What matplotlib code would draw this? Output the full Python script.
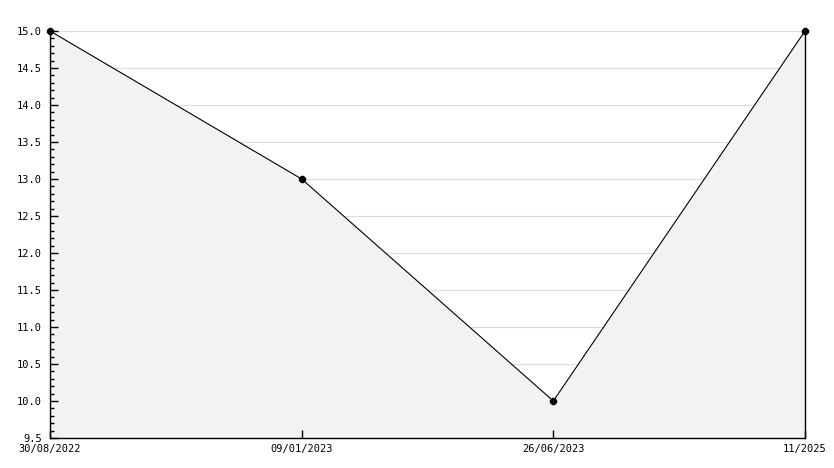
import matplotlib
matplotlib.use("Agg")
import matplotlib.pyplot as plt
import numpy as np
from matplotlib.ticker import MultipleLocator, FormatStrFormatter

dates = ["30/08/2022", "09/01/2023", "26/06/2023", "11/2025"]
values = [15.0, 13.0, 10.0, 15.0]
y_min, y_max, y_step = 9.5, 15.0, 0.5

W, H = 834, 468
fig = plt.figure(figsize=(W/100, H/100), dpi=100)
ax = fig.add_axes([50/W, (H-438)/H, (805-50)/W, (438-31)/H])

x = list(range(len(dates)))
for yv in np.arange(y_min + y_step, y_max + 0.001, y_step):
    ax.axhline(yv, color="#dddddd", linewidth=0.8, zorder=0.2)
ax.fill_between(x, values, y_min, color="#f2f2f2", zorder=0.3, linewidth=0)
ax.plot(x, values, color="black", linewidth=0.8, marker="8", markersize=5,
        zorder=3, clip_on=False)

ax.set_xlim(0, len(dates) - 1)
ax.set_ylim(y_min, y_max)
ax.set_xticks(x)
ax.set_xticklabels(dates)
ax.yaxis.set_major_locator(MultipleLocator(0.5))
ax.yaxis.set_minor_locator(MultipleLocator(0.1))
ax.yaxis.set_major_formatter(FormatStrFormatter("%.1f"))

for s in ["left", "bottom", "right"]:
    ax.spines[s].set_color("black")
    ax.spines[s].set_linewidth(1.0)
ax.spines["top"].set_visible(False)

ax.tick_params(axis="y", which="major", direction="in", length=6, width=1, labelsize=7.5, pad=6)
ax.tick_params(axis="y", which="minor", direction="in", length=3, width=1)
ax.tick_params(axis="x", which="major", direction="in", length=6, width=1, labelsize=7.5, pad=4)
for lbl in ax.get_xticklabels() + ax.get_yticklabels():
    lbl.set_fontfamily("DejaVu Sans Mono")

fig.savefig("out.png", dpi=100)
